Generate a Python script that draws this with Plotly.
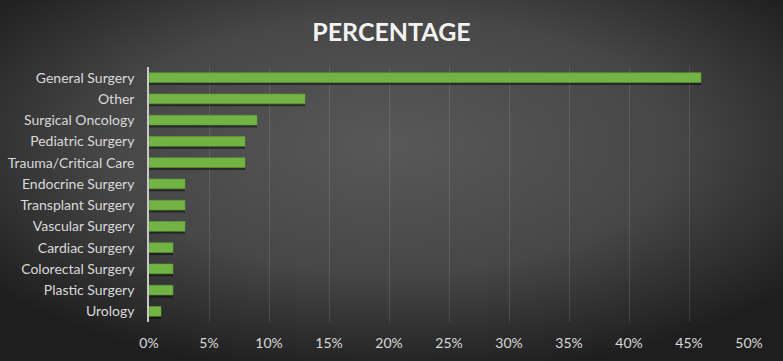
import base64
import plotly.graph_objects as go

categories = ["General Surgery", "Other", "Surgical Oncology", "Pediatric Surgery",
              "Trauma/Critical Care", "Endocrine Surgery", "Transplant Surgery",
              "Vascular Surgery", "Cardiac Surgery", "Colorectal Surgery",
              "Plastic Surgery", "Urology"]
percentages = [46, 13, 9, 8, 8, 3, 3, 3, 2, 2, 2, 1]
tick_values = [0, 5, 10, 15, 20, 25, 30, 35, 40, 45, 50]
tick_labels = [f"{v}%" for v in tick_values]

W, H = 783, 361
ML, MR, MT, MB = 149, 34, 67, 39
PW, PH = W - ML - MR, H - MT - MB

svg = f'''<svg xmlns="http://www.w3.org/2000/svg" width="{W}" height="{H}" viewBox="0 0 {W} {H}" preserveAspectRatio="none">
<defs><radialGradient id="g" cx="50%" cy="40%" r="65%" fx="50%" fy="40%">
<stop offset="0%" stop-color="#585858"/><stop offset="55%" stop-color="#474747"/>
<stop offset="100%" stop-color="#1e1e1e"/></radialGradient></defs>
<rect width="{W}" height="{H}" fill="url(#g)"/></svg>'''
bg_uri = "data:image/svg+xml;base64," + base64.b64encode(svg.encode()).decode()

bar_w = 0.46
fig = go.Figure()
fig.add_trace(go.Bar(
    x=percentages, y=categories, orientation="h",
    marker=dict(color="rgba(0,0,0,0.45)", line=dict(width=0)),
    width=bar_w, offset=-bar_w / 2 + 0.12, hoverinfo="skip", showlegend=False,
))
fig.add_trace(go.Bar(
    x=percentages, y=categories, orientation="h",
    marker=dict(color="#71b444", line=dict(color="#5e9a37", width=0.6)),
    width=bar_w, offset=-bar_w / 2, showlegend=False,
))

fig.update_layout(
    width=W, height=H,
    margin=dict(l=ML, r=MR, t=MT, b=MB, pad=0, autoexpand=False),
    paper_bgcolor="rgba(0,0,0,0)", plot_bgcolor="rgba(0,0,0,0)",
    barmode="overlay",
    font=dict(family="Lato, 'Open Sans', sans-serif", color="#d9d9d9", size=14),
    title=dict(text="<b>PERCENTAGE</b>", x=0.5, xanchor="center", y=0.912, yanchor="middle",
               font=dict(size=25, color="#f2f2f2", family="Lato, 'Open Sans', sans-serif")),
    images=[dict(source=bg_uri, xref="paper", yref="paper",
                 x=-ML / PW, y=1 + MT / PH, sizex=W / PW, sizey=H / PH,
                 xanchor="left", yanchor="top", sizing="stretch", layer="below")],
    xaxis=dict(range=[0, 50], tickvals=tick_values, ticktext=tick_labels,
               showgrid=True, gridcolor="rgba(255,255,255,0.11)", gridwidth=1,
               zeroline=False, showline=False, ticks="", ticklabelstandoff=11,
               automargin=False,
               tickfont=dict(size=14, color="#d9d9d9"), fixedrange=True),
    yaxis=dict(autorange="reversed", showline=True, linecolor="#c8c8c8", linewidth=1.5,
               ticks="", ticklabelstandoff=10, showgrid=False, automargin=False,
               tickfont=dict(size=14, color="#d9d9d9"), fixedrange=True),
)

fig.write_html("out.html", config={"displayModeBar": False},
               post_script="document.body.style.margin='0';document.body.style.background='#1e1e1e';")
